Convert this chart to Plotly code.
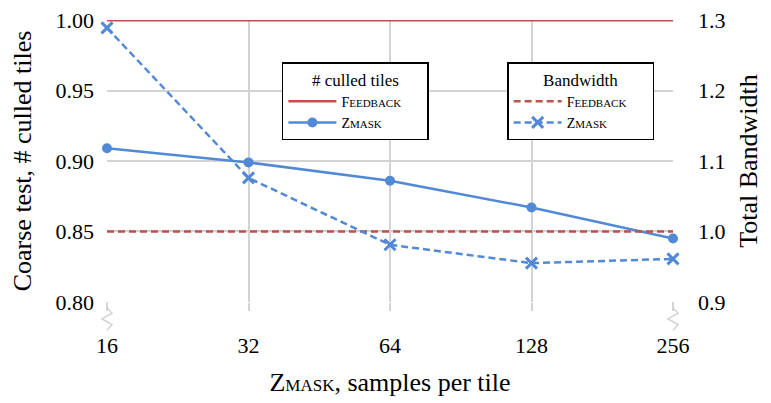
import plotly.graph_objects as go

samples = ["16", "32", "64", "128", "256"]
culled_feedback = [1.00, 1.00, 1.00, 1.00, 1.00]
culled_zmask = [0.909, 0.899, 0.886, 0.867, 0.845]
bw_feedback = [1.0, 1.0, 1.0, 1.0, 1.0]
bw_zmask = [1.289, 1.076, 0.981, 0.955, 0.961]
left_ticks = [0.80, 0.85, 0.90, 0.95, 1.00]
right_ticks = [0.9, 1.0, 1.1, 1.2, 1.3]

RED = "#C0504D"
BLUE = "#5189D6"
GRID = "#D3D3D3"
FONT = "Liberation Serif"
PAD = "&nbsp;" * 6
DASH = "7px,4px"


def smallcaps(word, small=11):
    return f"{word[0]}<span style='font-size:{small}px'>{word[1:].upper()}</span>"


fig = go.Figure()
fig.add_trace(go.Scatter(x=samples, y=culled_feedback, mode="lines", name=smallcaps("Feedback") + PAD,
                         line=dict(color=RED, width=2.5), legend="legend", cliponaxis=False))
fig.add_trace(go.Scatter(x=samples, y=culled_zmask, mode="lines+markers", name=smallcaps("Zmask"),
                         line=dict(color=BLUE, width=2.5), marker=dict(symbol="circle", size=10, color=BLUE),
                         legend="legend", cliponaxis=False))
fig.add_trace(go.Scatter(x=samples, y=bw_feedback, mode="lines", name=smallcaps("Feedback") + PAD,
                         line=dict(color=RED, width=2.5, dash=DASH), yaxis="y2", legend="legend2",
                         cliponaxis=False))
fig.add_trace(go.Scatter(x=samples, y=bw_zmask, mode="lines+markers", name=smallcaps("Zmask"),
                         line=dict(color=BLUE, width=2.5, dash=DASH),
                         marker=dict(symbol="x-thin", size=11, color=BLUE, line=dict(color=BLUE, width=3)),
                         yaxis="y2", legend="legend2", cliponaxis=False))

# axis break marks under both ends of the x axis
for px in (0, 1):
    d = 0.009
    path = (f"M {px},0 L {px},-0.02 L {px + d},-0.04 L {px - d},-0.06 "
            f"L {px + d},-0.08 L {px},-0.1")
    fig.add_shape(type="path", path=path, xref="paper", yref="paper",
                  line=dict(color=GRID, width=1.5))

legend_common = dict(
    bgcolor="white", bordercolor="black", borderwidth=1.5,
    font=dict(family=FONT, size=14, color="black"),
    xanchor="left", yanchor="top", tracegroupgap=0, itemwidth=48,
)
# page body has an 8px margin, so the figure is 8px smaller than the window
fig.update_layout(
    width=763, height=395,
    margin=dict(l=99, r=98, t=12, b=101),
    plot_bgcolor="white", paper_bgcolor="white",
    font=dict(family=FONT, size=22, color="black"),
    xaxis=dict(type="category", range=[0, 4], showgrid=True, gridcolor=GRID, gridwidth=2,
               ticks="outside", ticklen=8, tickcolor=GRID, tickwidth=2, automargin=False,
               ticklabelstandoff=16, zeroline=False, showline=False,
               title=dict(text="Z<span style='font-size:17px'>MASK</span>, samples per tile",
                          standoff=15)),
    yaxis=dict(range=[0.7999, 1.0001], tickvals=left_ticks, tickformat=".2f", showgrid=True,
               automargin=False, gridcolor=GRID, gridwidth=2, zeroline=False, showline=False,
               ticklabeloverflow="allow",
               ticklabelstandoff=12, title=dict(text="Coarse test, # culled tiles", standoff=20)),
    yaxis2=dict(range=[0.8998, 1.3002], tickvals=right_ticks, tickformat=".1f", overlaying="y",
                side="right", showgrid=False, zeroline=False, showline=False, ticklabelstandoff=24,
                ticklabeloverflow="allow",
                automargin=False, title=dict(text="Total Bandwidth", standoff=14)),
    legend=dict(legend_common, x=0.309, y=0.851,
                title=dict(text="# culled tiles", side="top center")),
    legend2=dict(legend_common, x=0.707, y=0.851,
                 title=dict(text="Bandwidth", side="top center")),
)

fig.write_html("out.html")
